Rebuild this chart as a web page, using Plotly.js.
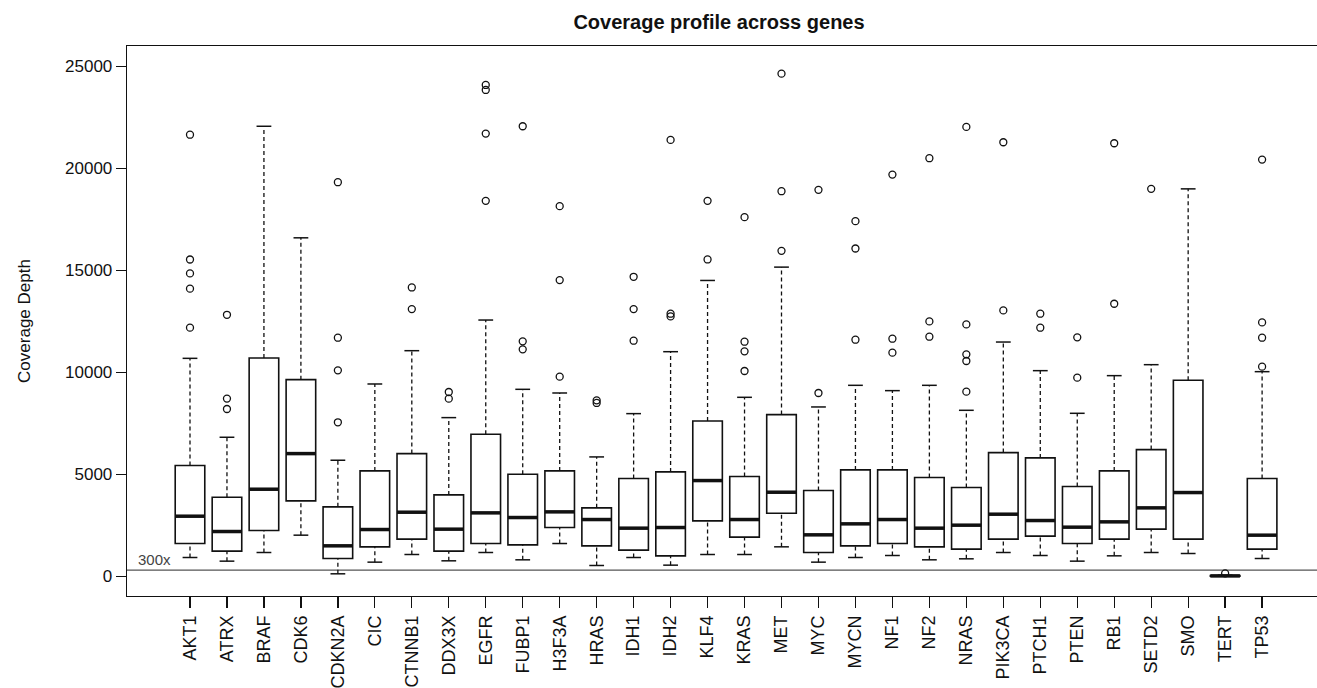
<!DOCTYPE html>
<html>
<head>
<meta charset="utf-8">
<script src="https://cdn.plot.ly/plotly-3.0.1.min.js"></script>
<style>
  html, body { margin: 0; padding: 0; background: #ffffff; }
  #chart { width: 1317px; height: 688px; }
</style>
</head>
<body>
<div id="chart"></div>
<script>
// ---- data ----
const genes = ["AKT1","ATRX","BRAF","CDK6","CDKN2A","CIC","CTNNB1","DDX3X","EGFR","FUBP1",
  "H3F3A","HRAS","IDH1","IDH2","KLF4","KRAS","MET","MYC","MYCN","NF1",
  "NF2","NRAS","PIK3CA","PTCH1","PTEN","RB1","SETD2","SMO","TERT","TP53"];

const q1 = [1604,1229,2241,3695,869,1441,1817,1229,1604,1539,
  2388,1490,1278,1000,2715,1915,3090,1163,1490,1604,
  1441,1327,1817,1964,1604,1817,2307,1817,0,1327];

const medians = [2943,2192,4266,6013,1490,2290,3139,2307,3107,2878,
  3156,2780,2356,2388,4691,2780,4119,2029,2568,2780,
  2356,2503,3041,2731,2405,2666,3352,4103,15,2013];

const q3 = [5426,3874,10700,9639,3401,5164,6013,3988,6960,5001,
  5164,3352,4789,5115,7614,4887,7924,4201,5213,5213,
  4838,4348,6062,5801,4397,5164,6209,9606,35,4789];

const lowerWhisker = [918,739,1163,2013,118,690,1065,755,1163,804,
  1604,526,918,543,1065,1065,1441,690,918,1016,
  804,853,1163,1016,739,1000,1163,1114,0,869];

const upperWhisker = [10684,6814,22064,16594,5687,9426,11059,7777,12562,9165,
  8985,5850,7973,11010,14503,8773,15157,8300,9361,9100,
  9361,8136,11484,10080,7989,9835,10373,18994,50,10031];

const outliers = [
  [12190,14100,14850,15530,21650], // AKT1
  [8200,8710,12820],               // ATRX
  [],                              // BRAF
  [],                              // CDK6
  [7548,10096,11696,19321],        // CDKN2A
  [],                              // CIC
  [13100,14160],                   // CTNNB1
  [8708,9034],                     // DDX3X
  [18407,21705,23844,24089],       // EGFR
  [11125,11517,22064],             // FUBP1
  [9786,14520,18145],              // H3F3A
  [8496,8626],                     // HRAS
  [11549,13100,14683],             // IDH1
  [12741,12872,21395],             // IDH2
  [15532,18407],                   // KLF4
  [10063,11027,11500,17606],       // KRAS
  [15957,18880,24644],             // MET
  [8985,18945],                    // MYC
  [11598,16071,17410],             // MYCN
  [10961,11647,19696],             // NF1
  [11745,12496,20497],             // NF2
  [9051,10553,10880,12349,22032],  // NRAS
  [13035,21280],                   // PIK3CA
  [12186,12872],                   // PTCH1
  [9737,11713],                    // PTEN
  [13362,21231],                   // RB1
  [18994],                         // SETD2
  [],                              // SMO
  [140],                           // TERT
  [10276,11696,12447,20431]        // TP53
];

const yTicks = [0, 5000, 10000, 15000, 20000, 25000];
const threshold = 300;
const thresholdLabel = "300x";

// ---- styling constants ----
const BOX_W = 0.8;      // box width in category units
const CAP_W = 0.4;      // staple width
const INK = "#111111";
const FONT = "Liberation Sans, Arial, Helvetica, sans-serif";

const pos = genes.map((g, i) => i + 1);

// boxes (outline) from precomputed statistics
const boxTrace = {
  type: "box",
  x: pos,
  q1: q1,
  median: medians,
  q3: q3,
  lowerfence: q1,
  upperfence: q3,
  width: BOX_W,
  whiskerwidth: 0,
  boxpoints: false,
  fillcolor: "rgba(255,255,255,0)",
  line: { color: INK, width: 1.6 },
  hoverinfo: "skip",
  showlegend: false
};

// dashed whiskers
const wx = [], wy = [];
pos.forEach((p, i) => {
  wx.push(p, p, null, p, p, null);
  wy.push(q3[i], upperWhisker[i], null, lowerWhisker[i], q1[i], null);
});
const whiskerTrace = {
  type: "scatter", mode: "lines", x: wx, y: wy,
  line: { color: INK, width: 1.3, dash: "4px,3px" },
  hoverinfo: "skip", showlegend: false, connectgaps: false
};

// staples
const cx = [], cy = [];
pos.forEach((p, i) => {
  cx.push(p - CAP_W / 2, p + CAP_W / 2, null, p - CAP_W / 2, p + CAP_W / 2, null);
  cy.push(upperWhisker[i], upperWhisker[i], null, lowerWhisker[i], lowerWhisker[i], null);
});
const capTrace = {
  type: "scatter", mode: "lines", x: cx, y: cy,
  line: { color: INK, width: 1.5 },
  hoverinfo: "skip", showlegend: false, connectgaps: false
};

// thick medians
const mx = [], my = [];
pos.forEach((p, i) => {
  mx.push(p - BOX_W / 2, p + BOX_W / 2, null);
  my.push(medians[i], medians[i], null);
});
const medianTrace = {
  type: "scatter", mode: "lines", x: mx, y: my,
  line: { color: INK, width: 3.5 },
  hoverinfo: "skip", showlegend: false, connectgaps: false
};

// outliers
const ox = [], oy = [];
outliers.forEach((arr, i) => arr.forEach(v => { ox.push(pos[i]); oy.push(v); }));
const outlierTrace = {
  type: "scatter", mode: "markers", x: ox, y: oy,
  marker: { symbol: "circle-open", size: 7, color: INK, line: { color: INK, width: 1.3 } },
  hoverinfo: "skip", showlegend: false
};

const layout = {
  width: 1317,
  height: 688,
  margin: { l: 127, r: 0, t: 46, b: 92, pad: 0 },
  paper_bgcolor: "#ffffff",
  plot_bgcolor: "#ffffff",
  font: { family: FONT, color: INK },
  title: {
    text: "Coverage profile across genes",
    font: { family: FONT, size: 20, weight: "bold", color: INK },
    xref: "container", x: 719 / 1317, xanchor: "center",
    yref: "container", y: 1 - 22 / 688, yanchor: "middle"
  },
  xaxis: {
    range: [-0.704, 31.485],
    tickmode: "array",
    tickvals: pos,
    ticktext: genes,
    tickangle: -90,
    ticks: "outside",
    ticklen: 11,
    tickwidth: 1.3,
    tickcolor: INK,
    tickfont: { family: FONT, size: 18, color: INK },
    showline: true,
    mirror: true,
    linecolor: INK,
    linewidth: 1.3,
    showgrid: false,
    zeroline: false,
    fixedrange: true
  },
  yaxis: {
    range: [-970, 26000],
    tickmode: "array",
    tickvals: yTicks,
    ticktext: yTicks.map(String),
    ticks: "outside",
    ticklen: 10,
    tickwidth: 1.3,
    tickcolor: INK,
    tickfont: { family: FONT, size: 17, color: INK },
    ticklabelstandoff: 0,
    showline: true,
    mirror: false,
    linecolor: INK,
    linewidth: 1.3,
    showgrid: false,
    zeroline: false,
    fixedrange: true,
    title: {
      text: "Coverage Depth",
      font: { family: FONT, size: 17, color: INK },
      standoff: 30
    }
  },
  shapes: [{
    type: "line", xref: "paper", x0: 0, x1: 1, yref: "y", y0: threshold, y1: threshold,
    line: { color: "#555555", width: 1.3 }, layer: "below"
  }],
  annotations: [{
    text: thresholdLabel,
    xref: "paper", x: 9 / 1190, xanchor: "left",
    yref: "y", y: threshold, yanchor: "bottom",
    showarrow: false,
    font: { family: FONT, size: 15, color: "#444444" },
    yshift: 0
  }]
};

Plotly.newPlot("chart", [boxTrace, whiskerTrace, capTrace, medianTrace, outlierTrace], layout,
  { displayModeBar: false, staticPlot: true });
</script>
</body>
</html>
